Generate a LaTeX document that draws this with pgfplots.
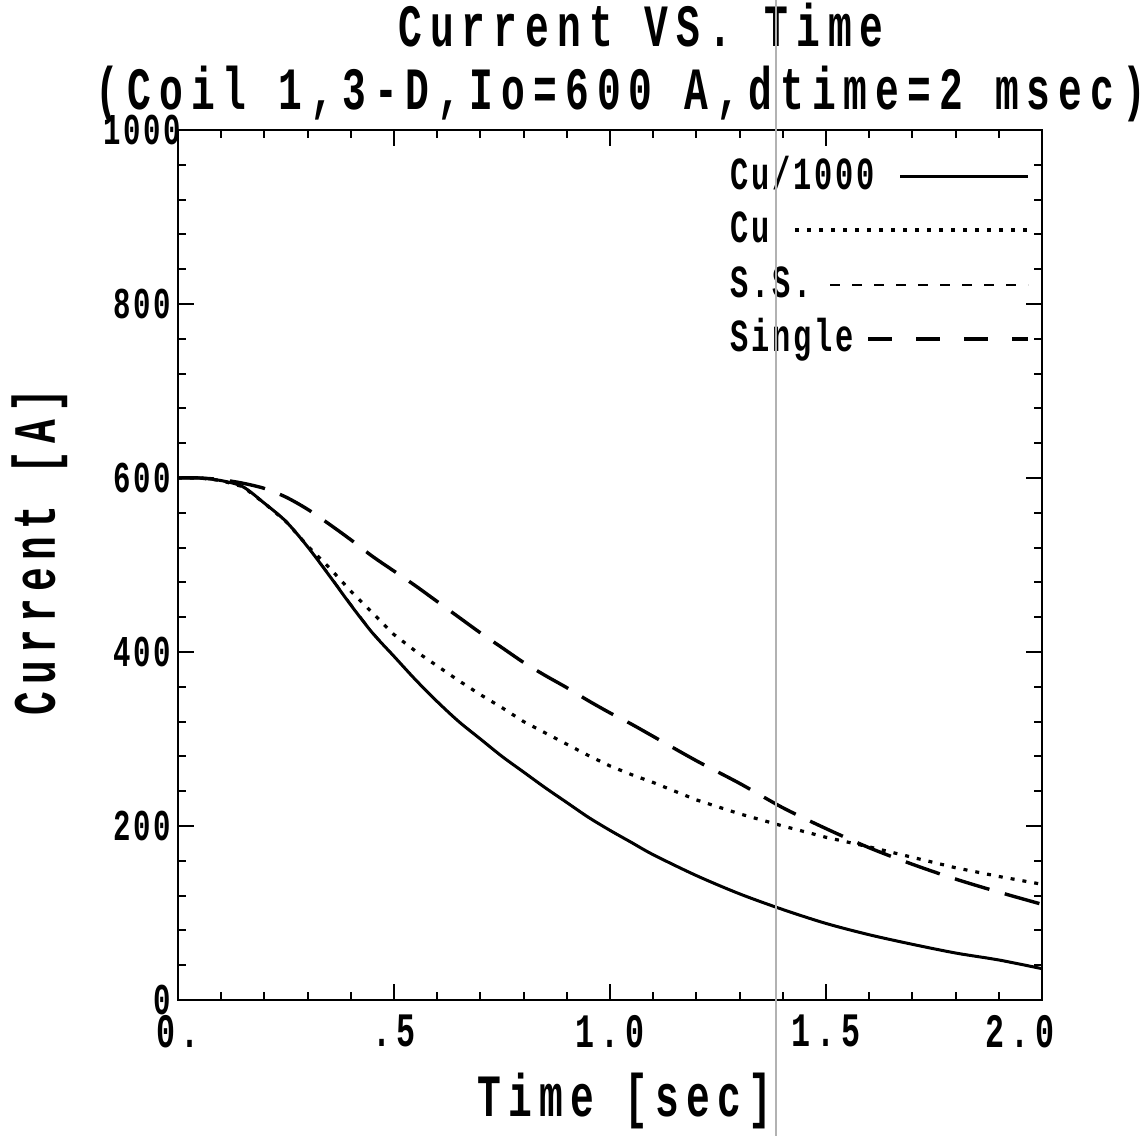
\documentclass[border=0pt]{standalone}
\usepackage{fontspec}
\usepackage{pgfplots}
\usepackage{pgfplotstable}
\pgfplotsset{compat=1.18}
\newfontfamily\pf[FakeStretch=0.66,LetterSpace=12]{Liberation Mono}
\newfontfamily\pft[FakeStretch=0.66,LetterSpace=13.5]{Liberation Mono}
\newfontfamily\pfs[FakeStretch=0.66,LetterSpace=6]{Liberation Mono}
\newcommand\titlefont{\pft\bfseries\fontsize{30}{34}\selectfont}
\newcommand\labfont{\pf\bfseries\fontsize{30}{34}\selectfont}
\newcommand\ytfont{\pfs\bfseries\fontsize{22}{24}\selectfont}
\newcommand\xtfont{\pf\bfseries\fontsize{24}{26}\selectfont}
\newcommand\legfont{\pfs\bfseries\fontsize{23}{25}\selectfont}

\pgfplotstableread{
x y
0 600
0.05 600
0.1 597
0.15 590
0.2 571
0.25 550
0.3 521
0.35 488
0.4 454
0.45 422
0.5 395
0.55 368
0.6 343
0.65 320
0.7 300
0.75 280
0.8 262
0.85 244
0.9 227
0.95 210
1.0 195
1.05 181
1.1 167
1.2 143
1.3 122
1.4 104
1.5 88
1.6 75
1.7 64
1.8 54
1.9 46
2.0 36
}\cuk

\pgfplotstableread{
x y
0 600
0.05 600
0.1 597
0.15 590
0.2 571
0.25 550
0.3 522
0.35 497
0.4 470
0.45 445
0.5 420
0.55 401
0.6 384
0.65 367
0.7 351
0.75 336
0.8 320
0.85 307
0.9 294
0.95 281
1.0 269
1.05 259
1.1 250
1.2 230
1.3 214
1.4 200
1.5 187
1.6 176
1.7 164
1.8 152
1.9 142
2.0 133
}\cu

\pgfplotstableread{
x y
0 600
0.05 600
0.1 597
0.15 590
0.2 571
0.25 550
0.3 521
0.35 489
0.4 455
0.45 423
0.5 395
0.55 368
0.6 343
0.65 320
0.7 300
0.75 280
0.8 262
0.85 244
0.9 227
0.95 210
1.0 195
1.05 181
1.1 167
1.2 143
1.3 122
1.4 104
1.5 88
1.6 75
1.7 64
1.8 54
1.9 46
2.0 36
}\ss

\pgfplotstableread{
x y
0 600
0.05 600
0.1 598
0.15 594
0.2 588
0.25 578
0.3 564
0.35 547
0.4 529
0.45 510
0.5 493
0.55 476
0.6 458
0.65 440
0.7 422
0.75 405
0.8 388
0.85 373
0.9 359
0.95 344
1.0 330
1.05 317
1.1 303
1.2 275
1.3 249
1.4 221
1.5 197
1.6 175
1.7 156
1.8 139
1.9 124
2.0 110
}\single

\begin{document}
\begin{tikzpicture}
\useasboundingbox (-89pt,-68pt) rectangle (485pt,500pt);
\begin{axis}[
  at={(0,0)}, anchor=south west,
  scale only axis, width=432pt, height=435pt,
  xmin=0, xmax=2, ymin=0, ymax=1000,
  xtick={0,0.5,1,1.5,2}, xticklabels={0.,.5,1.0,1.5,{\kern-22pt 2.0}},
  ytick={0,200,400,600,800,1000}, yticklabels={0,200,400,600,800,{1000\kern-5pt}},
  minor x tick num=4, minor y tick num=4,
  major tick length=8pt, minor tick length=4pt,
  tick style={black, line width=1pt},
  axis line style={line width=1.3pt},
  xticklabel style={font=\xtfont, yshift=-4pt},
  yticklabel style={font=\ytfont},
]
\addplot[black, line width=1pt, dash pattern=on 5pt off 6pt, smooth] table[x=x,y=y] {\ss};
\addplot[black, line width=1.5pt, smooth] table[x=x,y=y] {\cuk};
\addplot[black, line width=1.6pt, dash pattern=on 2pt off 4pt] table[x=x,y=y] {\cu};
\addplot[black, line width=1.7pt, dash pattern=on 18pt off 8pt, smooth] table[x=x,y=y] {\single};
\end{axis}
% title and axis labels
\node[font=\titlefont, anchor=base] at (231.5pt,476.5pt) {Current VS. Time};
\node[font=\titlefont, anchor=base] at (221.5pt,445pt) {(Coil 1,3-D,Io=600 A,dtime=2 msec)};
\node[font=\labfont, anchor=base] at (223.5pt,-58.5pt) {Time [sec]};
\node[font=\labfont, anchor=base, rotate=90] at (-61.5pt,224pt) {Current [A]};
% legend
\begin{scope}[every node/.style={font=\legfont, anchor=west, inner sep=0pt, text height=13pt, text depth=0pt}]
\node (l1) at (276pt,411.5pt) {Cu/1000};
\node (l2) at (276pt,385pt) {Cu};
\node (l3) at (276pt,357.5pt) {S.S.};
\node (l4) at (276pt,330.5pt) {Single};
\end{scope}
\draw[black, line width=1.5pt] (361pt,411.5pt) -- (425pt,411.5pt);
\draw[black, line width=1.7pt, dash pattern=on 2pt off 4pt] (308.5pt,385pt) -- (425pt,385pt);
\draw[black, line width=1.4pt, dash pattern=on 5pt off 6pt] (326pt,357.5pt) -- (425pt,357.5pt);
\draw[black, line width=1.6pt, dash pattern=on 12pt off 12pt] (345pt,330.5pt) -- (425pt,330.5pt);
% scan artifact line
\draw[gray!60, line width=0.7pt] (299pt,-68pt) -- (299pt,500pt);
\end{tikzpicture}
\end{document}
